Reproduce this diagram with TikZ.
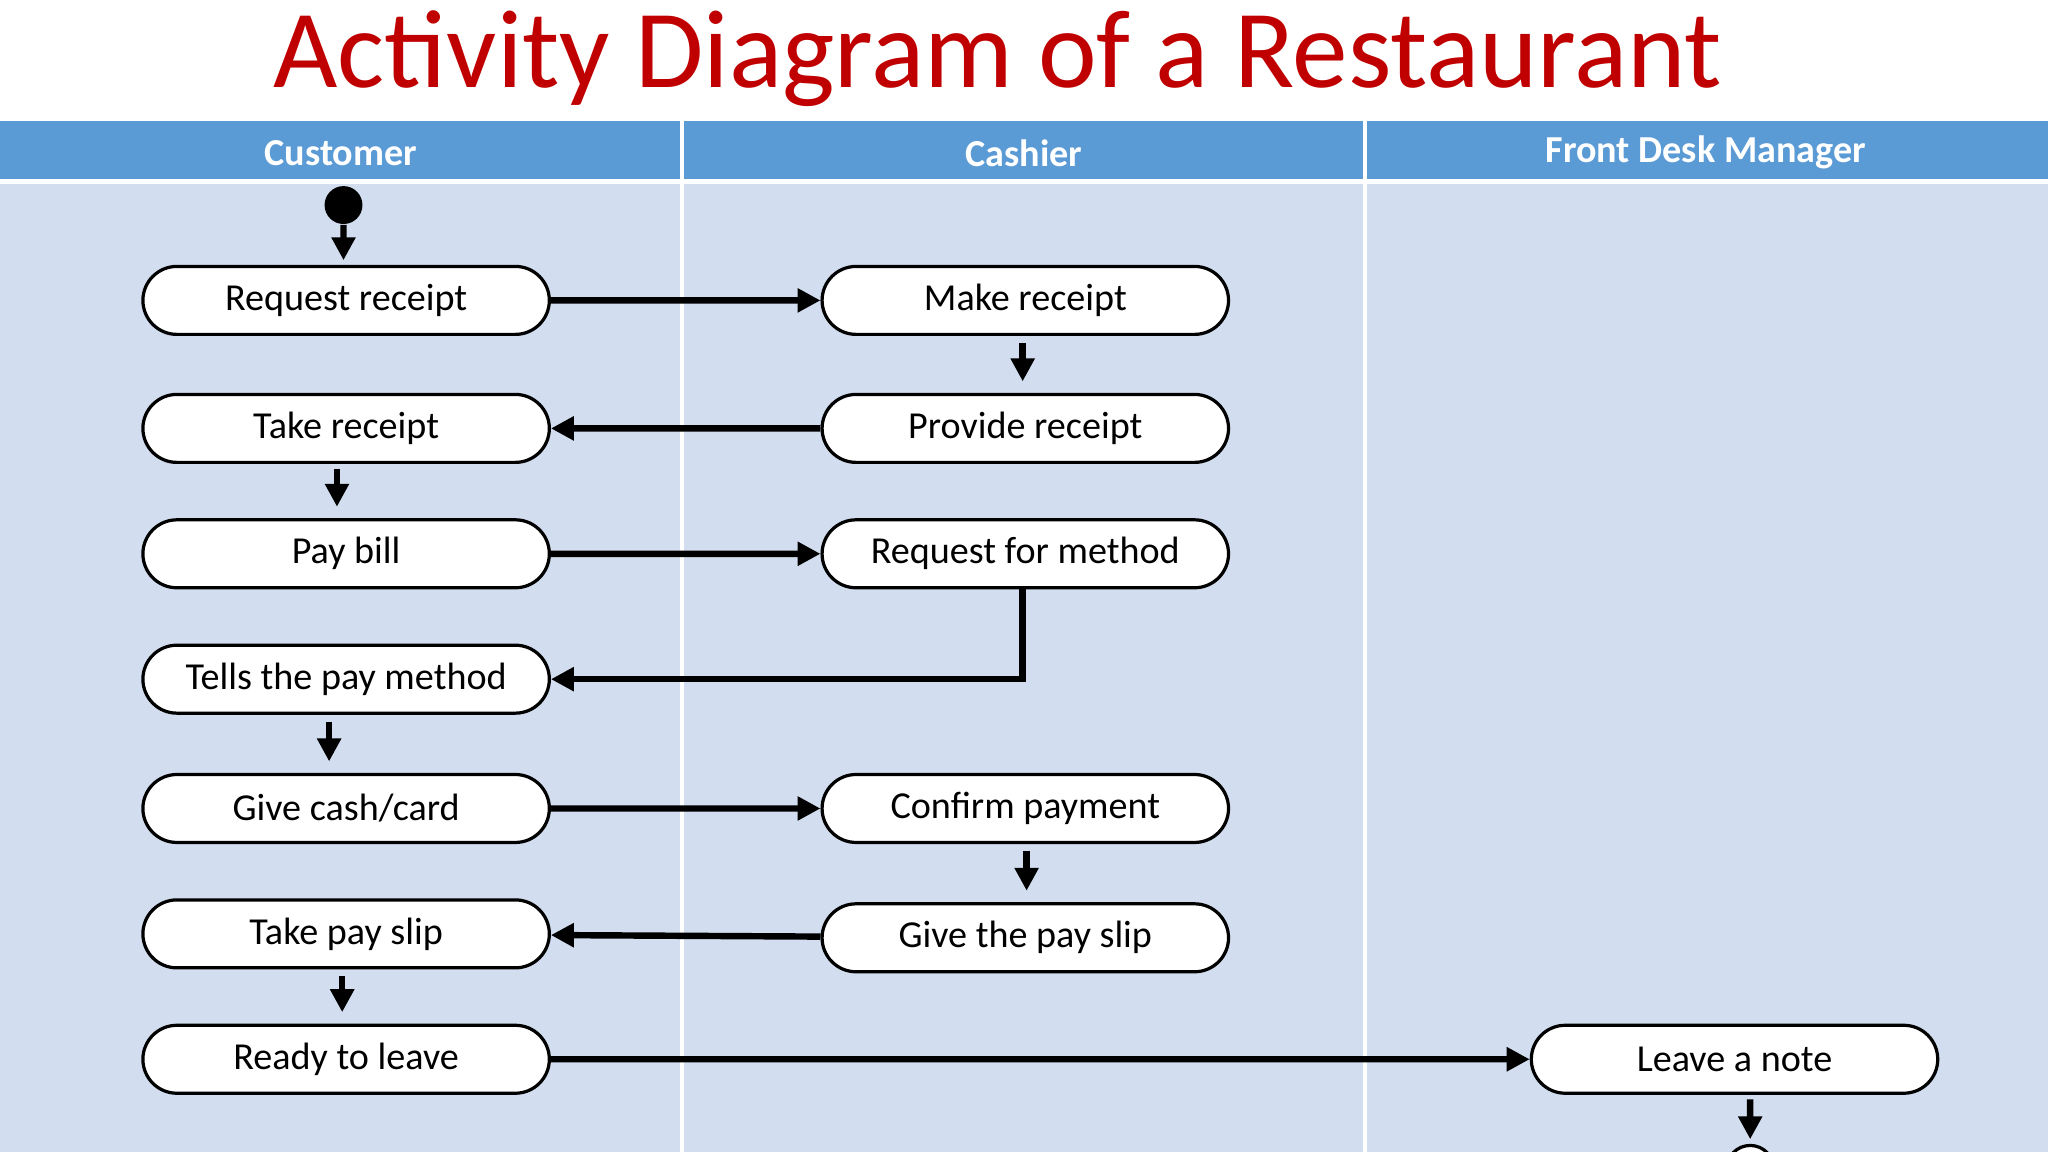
\documentclass[tikz,border=0pt]{standalone}
\usepackage{fontspec}
\setmainfont{Carlito}
\usetikzlibrary{shapes.misc,arrows.meta}
\definecolor{hdr}{HTML}{5B9BD5}
\definecolor{lane}{HTML}{D2DEEF}
\definecolor{ttl}{HTML}{C00000}
\tikzset{
  act/.style={rounded rectangle,draw,line width=0.7pt,fill=white,minimum width=3.11cm,minimum height=0.52cm,font=\fontsize{8.3}{10}\selectfont,inner sep=0pt},
  flow/.style={line width=1.4pt,-{Triangle[length=5pt,width=5pt]}},
  hd/.style={text=white,font=\bfseries\fontsize{8.3}{10}\selectfont}
}
\begin{document}
\begin{tikzpicture}[x=0.01cm,y=-0.01cm]
\useasboundingbox (0,0) rectangle (1568,882);
\fill[white] (0,0) rectangle (1568,882);
\fill[hdr] (0,93) rectangle (1568,137);
\fill[lane] (0,141) rectangle (1568,882);
\draw[white,line width=1pt] (522,93) -- (522,882) (1045,93) -- (1045,882);
\node[text=ttl,font=\fontsize{24.2}{28}\selectfont] (title) at (764,45) {Activity Diagram of a Restaurant};
\node[hd] (h1) at (261,117) {Customer};
\node[hd] (h2) at (784,117) {Cashier};
\node[hd] (h3) at (1306,117) {Front Desk Manager};
\node[circle,fill=black,minimum size=0.29cm,inner sep=0pt] (start) at (263,157) {};
\node[act] (c1) at (265,230) {Request receipt};
\node[act] (c2) at (265,328) {Take receipt};
\node[act] (c3) at (265,424) {Pay bill};
\node[act] (c4) at (265,520) {Tells the pay method};
\node[act] (c5) at (265,619) {Give cash/card};
\node[act] (c6) at (265,715) {Take pay slip};
\node[act] (c7) at (265,811) {Ready to leave};
\node[act] (k1) at (785,230) {Make receipt};
\node[act] (k2) at (785,328) {Provide receipt};
\node[act] (k3) at (785,424) {Request for method};
\node[act] (k4) at (785,619) {Confirm payment};
\node[act] (k5) at (785,718) {Give the pay slip};
\node[act] (f1) at (1328,811) {Leave a note};
\node[circle,draw,line width=0.7pt,fill=white,minimum size=0.36cm,inner sep=0pt] (end) at (1340,895) {};
\draw[flow,shorten >=1pt] (start) -- ([xshift=-0.02cm]c1.north);
\draw[flow] (c1) -- (k1);
\draw[flow,shorten <=1.5pt,shorten >=2.5pt] ([xshift=-0.02cm]k1.south) -- ([xshift=-0.02cm]k2.north);
\draw[flow] (k2) -- (c2);
\draw[flow,shorten <=1pt,shorten >=2.5pt] ([xshift=-0.07cm]c2.south) -- ([xshift=-0.07cm]c3.north);
\draw[flow] (c3) -- (k3);
\draw[flow] ([xshift=-0.02cm]k3.south) |- (c4.east);
\draw[flow,shorten <=1.5pt,shorten >=2.5pt] ([xshift=-0.13cm]c4.south) -- ([xshift=-0.13cm]c5.north);
\draw[flow] (c5) -- (k4);
\draw[flow,shorten <=1.5pt,shorten >=2.5pt] ([xshift=0.01cm]k4.south) -- ([xshift=0.01cm]k5.north);
\draw[flow] (k5) -- (c6);
\draw[flow,shorten <=1.5pt,shorten >=2.5pt] ([xshift=-0.03cm]c6.south) -- ([xshift=-0.03cm]c7.north);
\draw[flow] (c7) -- (f1);
\draw[flow,shorten <=1pt,shorten >=1pt] ([xshift=0.12cm]f1.south) -- (end);
\end{tikzpicture}
\end{document}
